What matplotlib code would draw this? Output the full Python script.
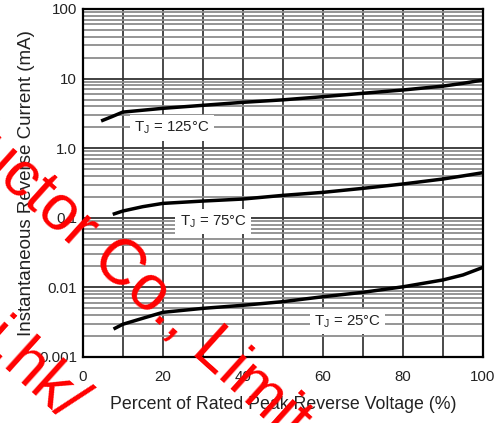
import matplotlib
matplotlib.use("Agg")
import matplotlib.pyplot as plt
from matplotlib.ticker import LogLocator, FixedLocator, NullFormatter

plt.rcParams['font.family'] = ['Liberation Sans', 'DejaVu Sans']

# ---- data ----
x125 = [4.6, 7.3, 10, 20, 30, 40, 50, 60, 70, 80, 90, 95, 100]
y125 = [2.46, 2.84, 3.3, 3.74, 4.13, 4.56, 4.95, 5.5, 6.15, 6.86, 7.8, 8.55, 9.55]

x75 = [7.5, 10, 15, 20, 30, 40, 50, 60, 70, 80, 90, 95, 100]
y75 = [0.112, 0.125, 0.1445, 0.161, 0.174, 0.186, 0.21, 0.232, 0.265, 0.306, 0.361, 0.40, 0.445]

x25 = [7.7, 10, 15, 20, 30, 40, 50, 60, 70, 80, 90, 95, 100]
y25 = [0.00252, 0.00295, 0.0036, 0.00438, 0.0050, 0.00553, 0.00624, 0.00734, 0.0085, 0.0102, 0.0128, 0.0151, 0.0194]

curve_labels = ["T$_\\mathregular{J}$ = 125°C", "T$_\\mathregular{J}$ = 75°C", "T$_\\mathregular{J}$ = 25°C"]
label_x = [22.3, 32.6, 66.2]
label_y = [1.95, 0.088, 0.00321]

xticks = [0, 20, 40, 60, 80, 100]
yticks = [0.001, 0.01, 0.1, 1.0, 10, 100]
yticklabels = ["0.001", "0.01", "0.1", "1.0", "10", "100"]

xlabel = "Percent of Rated Peak Reverse Voltage (%)"
ylabel = "Instantaneous Reverse Current (mA)"

wm_line1a = "Semiconductor "
wm_line1b = "Co., Limited"
wm_line2 = "http://www.semi.hk/"

# ---- figure ----
W, H = 499, 423
fig = plt.figure(figsize=(W / 100, H / 100), dpi=100)
ax = fig.add_axes([82.7 / W, 1 - 357 / H, (483 - 82.7) / W, (357 - 9) / H])

ax.set_yscale('log')
ax.set_xlim(0, 100)
ax.set_ylim(0.001, 100)

ax.xaxis.set_major_locator(FixedLocator(xticks))
ax.xaxis.set_minor_locator(FixedLocator(list(range(0, 101, 10))))
ax.yaxis.set_major_locator(FixedLocator(yticks))
ax.set_yticklabels(yticklabels)
ax.yaxis.set_minor_locator(LogLocator(base=10, subs=range(2, 10), numticks=20))
ax.yaxis.set_minor_formatter(NullFormatter())

ax.grid(which='minor', axis='y', color='#8c8c8c', lw=1.3)
ax.grid(which='major', axis='y', color='#333333', lw=1.3)
ax.grid(which='both', axis='x', color='#3a3a3a', lw=1.3)
ax.set_axisbelow(True)

ax.tick_params(which='both', length=0)
ax.tick_params(axis='x', pad=9, labelsize=10.8, colors='#222222')
ax.tick_params(axis='y', pad=4, labelsize=10.8, colors='#222222')

for s in ax.spines.values():
    s.set_linewidth(1.6)
    s.set_color('black')

for xs, ys in [(x125, y125), (x75, y75), (x25, y25)]:
    ax.plot(xs, ys, color='black', lw=2.5, solid_capstyle='butt', zorder=3)

for t, lx, ly in zip(curve_labels, label_x, label_y):
    ax.text(lx, ly, t, ha='center', va='center', fontsize=10.8, color='#222222',
            bbox=dict(facecolor='white', edgecolor='none', pad=3), zorder=4)

ax.set_xlabel(xlabel, fontsize=12.8, color='#222222', labelpad=9)
ax.set_ylabel(ylabel, fontsize=13.5, color='#222222', labelpad=3)

# ---- watermark ----
rot = -42
fs_wm = 46
fig.text(90 / W, 1 - 262 / H, wm_line1a, rotation=rot, rotation_mode='anchor',
         ha='right', va='baseline', fontsize=fs_wm, color='#ff0000', zorder=10)
fig.text(90 / W, 1 - 262 / H, wm_line1b, rotation=rot, rotation_mode='anchor',
         ha='left', va='baseline', fontsize=fs_wm, color='#ff0000', zorder=10)
fig.text(64 / W, 1 - 425 / H, wm_line2, rotation=rot, rotation_mode='anchor',
         ha='right', va='baseline', fontsize=fs_wm, color='#ff0000', zorder=10)

fig.savefig("out.png", dpi=100)
